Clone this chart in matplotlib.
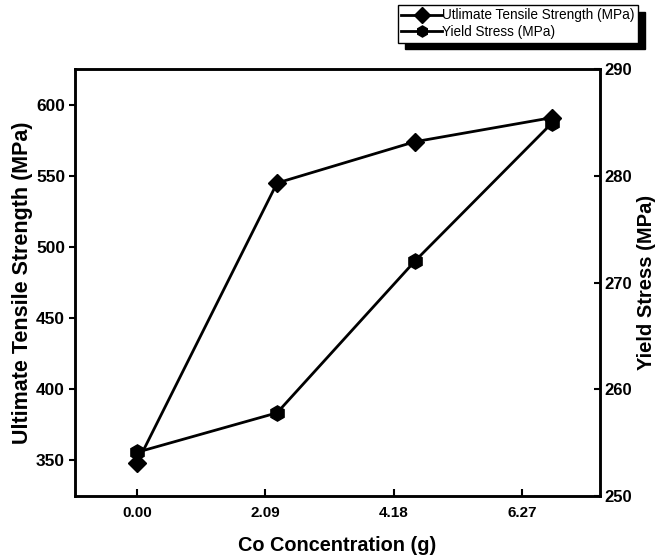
import matplotlib
matplotlib.use("Agg")
import matplotlib.pyplot as plt

# data
co_ticks = [0.00, 2.09, 4.18, 6.27]
co_x = [0.00, 2.28, 4.52, 6.76]
uts = [348, 545, 574, 591]
yield_stress = [254.1, 257.8, 272.0, 285.0]

plt.rcParams['font.family'] = ['Liberation Sans', 'DejaVu Sans']

fig = plt.figure(figsize=(6.62, 5.58), dpi=100)
ax1 = fig.add_axes([0.113, 0.111, 0.793, 0.765])
ax2 = ax1.twinx()

line1, = ax1.plot(co_x, uts, color='black', lw=2, marker='D', markersize=9,
                  label='Utlimate Tensile Strength (MPa)')
line2, = ax2.plot(co_x, yield_stress, color='black', lw=2, marker='h', markersize=11,
                  label='Yield Stress (MPa)')

ax1.set_xlim(-1.01, 7.53)
ax1.set_ylim(325, 625)
ax2.set_ylim(250, 290)

ax1.set_xticks(co_ticks)
ax1.set_xticklabels(['%.2f' % v for v in co_ticks])
ax1.set_yticks([350, 400, 450, 500, 550, 600])
ax2.set_yticks([250, 260, 270, 280, 290])

for ax in (ax1, ax2):
    for s in ax.spines.values():
        s.set_linewidth(1.8)

ax1.tick_params(axis='x', direction='in', length=5, width=1.5, labelsize=11, pad=7)
ax1.tick_params(axis='y', direction='out', length=4, width=1.5, labelsize=12.5, pad=3)
ax2.tick_params(axis='y', direction='in', length=4, width=1.5, labelsize=12, pad=3)
for lab in ax1.get_xticklabels() + ax1.get_yticklabels() + ax2.get_yticklabels():
    lab.set_fontweight('bold')

ax1.set_xlabel('Co Concentration (g)', fontsize=14.3, fontweight='bold', labelpad=12)
ax1.set_ylabel('Ultimate Tensile Strength (MPa)', fontsize=15.5, fontweight='bold', labelpad=2)
ax2.set_ylabel('Yield Stress (MPa)', fontsize=14.5, fontweight='bold', labelpad=4)

leg = fig.legend(handles=[line1, line2], loc='upper right',
                 bbox_to_anchor=(0.964, 0.991), fontsize=9.8, fancybox=False,
                 shadow={'ox': 5, 'oy': -5, 'color': 'black', 'alpha': 1},
                 edgecolor='black', handlelength=3.0, handletextpad=0.0,
                 borderpad=0.25, borderaxespad=0, labelspacing=0.2, framealpha=1)
leg.get_frame().set_linewidth(1.0)
for h in leg.legend_handles:
    h.set_markersize(8)

fig.savefig('out.png', dpi=100)
